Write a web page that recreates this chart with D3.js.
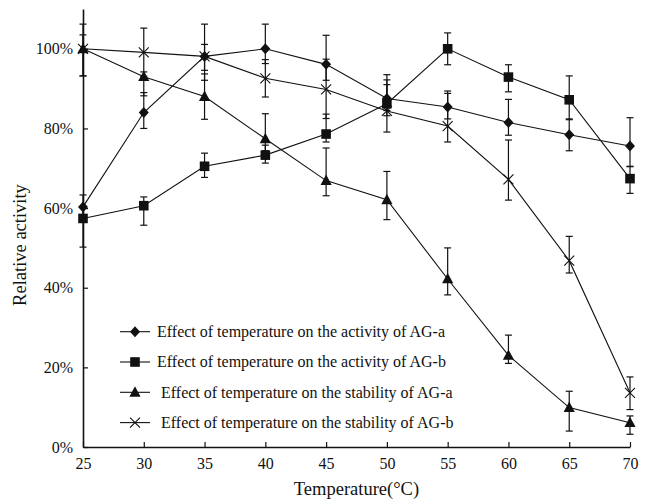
<!DOCTYPE html>
<html>
<head>
<meta charset="utf-8">
<script src="https://cdn.jsdelivr.net/npm/d3@7/dist/d3.min.js"></script>
<style>
  html, body { margin: 0; padding: 0; background: #fff; }
  svg text { font-family: "Liberation Serif", "Times New Roman", serif; fill: #111; }
</style>
</head>
<body>
<svg id="chart" width="650" height="500"></svg>
<script>
// ---- data ----
const temperatures = [25, 30, 35, 40, 45, 50, 55, 60, 65, 70];
const xTicks = [25, 30, 35, 40, 45, 50, 55, 60, 65, 70];
const yTicks = [0, 20, 40, 60, 80, 100];

const seriesNames = [
  "Effect of temperature on the activity of AG-a",
  "Effect of temperature on the activity of AG-b",
  " Effect of temperature on the stability of AG-a",
  " Effect of temperature on the stability of AG-b"
];
const seriesMarkers = ["diamond", "square", "triangle", "cross"];

const activityA   = [60.3, 84.0, 98.1, 100.0, 96.1, 87.5, 85.4, 81.5, 78.4, 75.6];
const activityAUp = [3.0, 5.0, 3.0, 6.2, 7.3, 6.0, 4.0, 5.8, 4.0, 7.1];
const activityADn = [3.0, 4.0, 3.5, 3.7, 4.0, 3.0, 3.0, 3.2, 4.0, 5.1];

const activityB   = [57.4, 60.6, 70.5, 73.3, 78.6, 86.2, 100.0, 92.9, 87.2, 67.4];
const activityBUp = [3.0, 2.2, 3.3, 2.5, 5.0, 6.0, 4.0, 3.1, 6.0, 3.0];
const activityBDn = [7.2, 4.9, 2.8, 2.0, 2.0, 3.0, 4.0, 3.7, 5.0, 3.7];

const stabilityA   = [100.0, 93.0, 88.0, 77.4, 66.9, 62.1, 42.2, 23.0, 9.9, 6.1];
const stabilityAUp = [3.5, 1.2, 5.7, 6.3, 8.2, 7.1, 7.8, 5.1, 4.1, 1.7];
const stabilityADn = [6.8, 4.8, 5.7, 3.0, 3.8, 5.0, 4.0, 2.0, 5.9, 2.9];

const stabilityB   = [100.0, 99.1, 98.1, 92.6, 89.8, 84.4, 80.6, 67.2, 46.8, 13.6];
const stabilityBUp = [6.2, 6.1, 8.1, 4.7, 7.6, 6.6, 8.2, 9.9, 6.1, 4.0];
const stabilityBDn = [6.8, 6.0, 6.0, 4.7, 7.3, 5.3, 4.0, 5.2, 3.1, 4.2];

const seriesValues = [activityA, activityB, stabilityA, stabilityB];
const seriesUp = [activityAUp, activityBUp, stabilityAUp, stabilityBUp];
const seriesDn = [activityADn, activityBDn, stabilityADn, stabilityBDn];

// ---- layout ----
const W = 650, H = 500;
const m = { left: 83, right: 20, top: 9, bottom: 53 };
const ink = "#111";

const svg = d3.select("#chart");
const x = d3.scaleLinear().domain([25, 70]).range([m.left, W - m.right]);
const y = d3.scaleLinear().domain([0, 110]).range([H - m.bottom, m.top]);

// axes
const xAxis = d3.axisBottom(x).tickValues(xTicks).tickSizeInner(-5).tickSizeOuter(0).tickPadding(8).tickFormat(d3.format("d"));
const yAxis = d3.axisLeft(y).tickValues(yTicks).tickSizeInner(-5).tickSizeOuter(0).tickPadding(8).tickFormat(d => d + "%");

const gx = svg.append("g").attr("transform", `translate(0,${y(0)})`).call(xAxis);
const gy = svg.append("g").attr("transform", `translate(${x(25)},0)`).call(yAxis);
[gx, gy].forEach(g => {
  g.select(".domain").attr("stroke", ink).attr("stroke-width", 1.6);
  g.selectAll(".tick line").attr("stroke", ink).attr("stroke-width", 1.2);
  g.selectAll(".tick text").attr("font-family", "Liberation Serif, serif").attr("font-size", 16).attr("fill", ink);
});
gx.selectAll(".tick text").attr("dy", "0.9em");
gy.selectAll(".tick text").attr("dx", "-2");

// axis titles
svg.append("text").attr("x", (x(25) + x(70)) / 2).attr("y", 495).attr("text-anchor", "middle")
  .attr("font-size", 18.5).text("Temperature(°C)");
svg.append("text").attr("transform", `translate(26,${245}) rotate(-90)`).attr("text-anchor", "middle")
  .attr("font-size", 18.5).text("Relative activity");

// marker symbol
function markerPath(type) {
  switch (type) {
    case "diamond": return "M0,-5.5L5,0L0,5.5L-5,0Z";
    case "square": return "M-4.8,-4.8H4.8V4.8H-4.8Z";
    case "triangle": return "M0,-6L5.6,4.4H-5.6Z";
    case "cross": return "M-5,-5L5,5M-5,5L5,-5";
  }
}
function drawMarker(g, type) {
  const p = g.append("path").attr("d", markerPath(type));
  if (type === "cross") p.attr("fill", "none").attr("stroke", ink).attr("stroke-width", 1.1);
  else p.attr("fill", ink).attr("stroke", "none");
}

const line = d3.line().x((d, i) => x(temperatures[i])).y(d => y(d));
const plot = svg.append("g");

// error bars
seriesValues.forEach((vals, s) => {
  const eg = plot.append("g").attr("stroke", ink).attr("stroke-width", 1.2).attr("fill", "none");
  vals.forEach((v, i) => {
    const cx = x(temperatures[i]);
    const yt = y(v + seriesUp[s][i]), yb = y(v - seriesDn[s][i]);
    eg.append("line").attr("x1", cx).attr("x2", cx).attr("y1", yt).attr("y2", yb);
    eg.append("line").attr("x1", cx - 3.5).attr("x2", cx + 3.5).attr("y1", yt).attr("y2", yt);
    eg.append("line").attr("x1", cx - 3.5).attr("x2", cx + 3.5).attr("y1", yb).attr("y2", yb);
  });
});

// lines
seriesValues.forEach(vals => {
  plot.append("path").attr("d", line(vals)).attr("fill", "none").attr("stroke", ink).attr("stroke-width", 1.1);
});

// markers
seriesValues.forEach((vals, s) => {
  vals.forEach((v, i) => {
    const g = plot.append("g").attr("transform", `translate(${x(temperatures[i])},${y(v)})`);
    drawMarker(g, seriesMarkers[s]);
  });
});

// legend
const legend = svg.append("g");
seriesNames.forEach((name, s) => {
  const ly = 331.7 + s * 30.3;
  const g = legend.append("g").attr("transform", `translate(120,${ly})`);
  g.append("line").attr("x1", 0).attr("x2", 30).attr("y1", 0).attr("y2", 0).attr("stroke", ink).attr("stroke-width", 1.1);
  const mg = g.append("g").attr("transform", "translate(15,0)");
  drawMarker(mg, seriesMarkers[s]);
  g.append("text").attr("x", 37).attr("y", 0).attr("dy", "0.33em").attr("font-size", 16)
    .attr("xml:space", "preserve").style("white-space", "pre").text(name);
});
</script>
</body>
</html>
